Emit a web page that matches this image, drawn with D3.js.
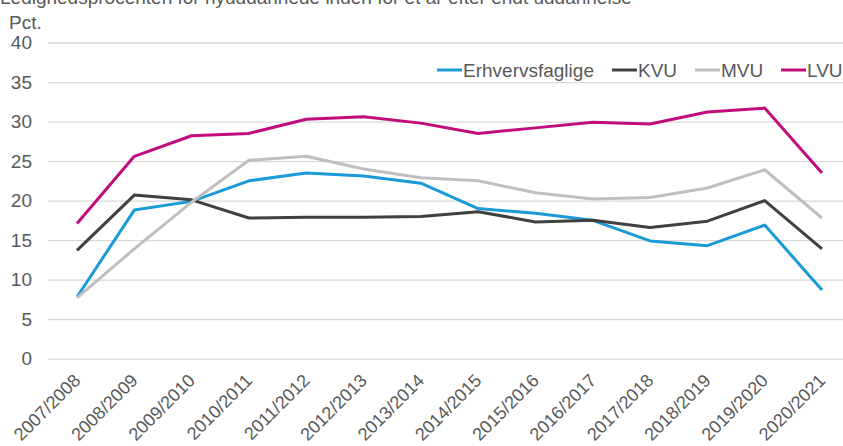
<!DOCTYPE html>
<html>
<head>
<meta charset="utf-8">
<script src="https://cdn.jsdelivr.net/npm/d3@7"></script>
<style>
	body { margin: 0; background: #fff; }
	svg { display: block; font-family: "Liberation Sans", Arial, sans-serif; }
</style>
</head>
<body>
<svg id="chart" width="843" height="446"></svg>
<script>
"use strict";

var years = ['2007/2008', '2008/2009', '2009/2010', '2010/2011', '2011/2012', '2012/2013', '2013/2014',
	'2014/2015', '2015/2016', '2016/2017', '2017/2018', '2018/2019', '2019/2020', '2020/2021'];

var erhvervsfaglige = [7.8, 18.8, 19.9, 22.5, 23.5, 23.1, 22.2, 19.0, 18.4, 17.5, 14.9, 14.3, 16.9, 8.7];
var kvu = [13.7, 20.7, 20.1, 17.8, 17.9, 17.9, 18.0, 18.6, 17.3, 17.5, 16.6, 17.4, 20.0, 13.9];
var mvu = [7.7, 13.9, 19.8, 25.1, 25.6, 24.0, 22.9, 22.5, 21.0, 20.2, 20.4, 21.6, 23.9, 17.8];
var lvu = [17.1, 25.6, 28.2, 28.5, 30.3, 30.6, 29.8, 28.5, 29.2, 29.9, 29.7, 31.2, 31.7, 23.5];

var yTicks = [0, 5, 10, 15, 20, 25, 30, 35, 40];

var series = [
	{ name: 'Erhvervsfaglige', values: erhvervsfaglige, color: '#1a9ad6' },
	{ name: 'KVU', values: kvu, color: '#404040' },
	{ name: 'MVU', values: mvu, color: '#bfbfbf' },
	{ name: 'LVU', values: lvu, color: '#c00d7b' }
];

var textColor = '#595959';
var svg = d3.select('#chart');

var x = d3.scalePoint().domain(years).range([77, 822]);
var y = d3.scaleLinear().domain([0, 40]).range([358.7, 42.5]);

// title (clipped at the top like the reference)
svg.append('text')
	.attr('x', 0)
	.attr('y', 4)
	.attr('font-size', 19)
	.attr('fill', textColor)
	.text('Ledighedsprocenten for nyuddannede inden for et år efter endt uddannelse');

svg.append('text')
	.attr('x', 9)
	.attr('y', 29)
	.attr('font-size', 19)
	.attr('fill', textColor)
	.text('Pct.');

// grid + y labels
var yAxis = svg.append('g')
	.attr('transform', 'translate(48,0)')
	.call(d3.axisLeft(y).tickValues(yTicks).tickSize(-800).tickPadding(16));
yAxis.select('.domain').remove();
yAxis.selectAll('.tick line').attr('stroke', '#d9d9d9').attr('stroke-width', 1.3);
yAxis.selectAll('.tick text')
	.attr('font-size', 19)
	.attr('font-family', '"Liberation Sans", Arial, sans-serif')
	.attr('fill', textColor);

// x labels
var xAxis = svg.append('g')
	.attr('transform', 'translate(0,358.7)')
	.call(d3.axisBottom(x).tickSize(0).tickPadding(0));
xAxis.select('.domain').remove();
xAxis.selectAll('.tick text')
	.attr('font-size', 18)
	.attr('font-family', '"Liberation Sans", Arial, sans-serif')
	.attr('fill', textColor)
	.attr('text-anchor', 'end')
	.attr('dy', 0)
	.attr('transform', 'translate(4,23) rotate(-45)');

// lines
var line = d3.line()
	.x(function(d, i) { return x(years[i]); })
	.y(function(d) { return y(d); });

svg.append('g').selectAll('path')
	.data(series)
	.join('path')
	.attr('d', function(s) { return line(s.values); })
	.attr('fill', 'none')
	.attr('stroke', function(s) { return s.color; })
	.attr('stroke-width', 3)
	.attr('stroke-linejoin', 'round');

// legend
var legendX = [437, 612, 695, 781];
var legend = svg.append('g').selectAll('g')
	.data(series)
	.join('g')
	.attr('transform', function(s, i) { return 'translate(' + legendX[i] + ',70)'; });
legend.append('line')
	.attr('x1', 0).attr('x2', 25)
	.attr('stroke', function(s) { return s.color; })
	.attr('stroke-width', 3);
legend.append('text')
	.attr('x', 26)
	.attr('y', 7)
	.attr('font-size', 19)
	.attr('fill', textColor)
	.text(function(s) { return s.name; });
</script>
</body>
</html>
